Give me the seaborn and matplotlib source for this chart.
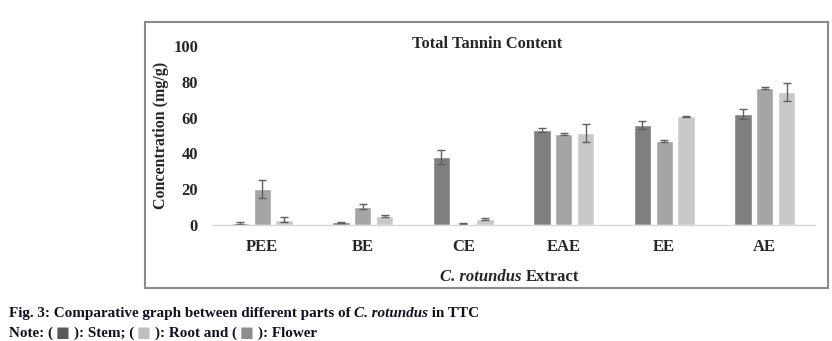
import matplotlib
matplotlib.use("Agg")
import matplotlib.pyplot as plt
import seaborn as sns
import pandas as pd
import numpy as np
from matplotlib.patches import Rectangle

extracts = ["PEE", "BE", "CE", "EAE", "EE", "AE"]
parts = ["Stem", "Root", "Flower"]
stem = [1.0, 1.5, 38.2, 53.1, 55.9, 62.0]
root = [20.1, 10.2, 0.7, 50.8, 46.9, 76.4]
flower = [3.0, 5.0, 3.4, 51.2, 60.7, 74.5]
stem_err = [0.4, 0.4, 3.9, 1.0, 2.3, 3.0]
root_err = [4.9, 1.3, 0.3, 0.7, 0.8, 0.6]
flower_err = [1.3, 0.5, 0.6, 5.0, 0.3, 5.0]
colors = ["#7f7f7f", "#a5a5a5", "#c9c9c9"]

sns.set_style("white")
plt.rcParams["font.family"] = ["Liberation Serif", "DejaVu Sans"]

df = pd.DataFrame({
    "Extract": extracts * 3,
    "Part": sum([[p] * len(extracts) for p in parts], []),
    "Value": stem + root + flower,
})

fig = plt.figure(figsize=(8.32, 3.41), dpi=100)
ax = fig.add_axes([212 / 832, 1 - 225 / 341, 603 / 832, 179 / 341])

sns.barplot(data=df, x="Extract", y="Value", hue="Part", hue_order=parts,
            order=extracts, palette=colors, width=0.65, gap=0.2,
            errorbar=None, legend=False, ax=ax, saturation=1)

errs = [stem_err, root_err, flower_err]
for cont, e in zip(ax.containers, errs):
    xs = [b.get_x() + b.get_width() / 2 for b in cont]
    hs = [b.get_height() for b in cont]
    ax.errorbar(xs, hs, yerr=e, fmt="none", ecolor="#606060", elinewidth=1,
                capsize=3, capthick=1)

ax.set_xlim(-0.5, 5.5)
ax.set_ylim(0, 100)
ax.set_yticks([0, 20, 40, 60, 80, 100])
for s in ["top", "right", "left"]:
    ax.spines[s].set_visible(False)
ax.spines["bottom"].set_color("#d9d9d9")
ax.spines["bottom"].set_linewidth(1)
ax.tick_params(axis="both", length=0, labelsize=12)
ax.tick_params(axis="x", pad=10, labelsize=12)
ax.tick_params(axis="y", pad=10)
for lab in ax.get_xticklabels() + ax.get_yticklabels():
    lab.set_fontweight("bold")
ax.set_xlabel("")
ax.set_ylabel("Concentration (mg/g)", fontsize=11.5, fontweight="bold")
ax.yaxis.set_label_coords(-0.072, 0.5)

# chart frame
fig.add_artist(Rectangle((145 / 832, 1 - 288 / 341), 683 / 832, 266 / 341,
                         transform=fig.transFigure, fill=False,
                         edgecolor="#8a8a8a", linewidth=1.5))

fig.text(487 / 832, 1 - 44 / 341, "Total Tannin Content", ha="center",
         va="center", fontsize=11.8, fontweight="bold")

# x axis label
fig.text(522 / 832, 1 - 277 / 341, "C. rotundus", ha="right", va="center",
         fontsize=12, fontweight="bold", fontstyle="italic")
fig.text(526 / 832, 1 - 277 / 341, "Extract", ha="left", va="center",
         fontsize=12, fontweight="bold")

# caption, assembled piece by piece on a shared baseline
cap_c = "#111122"
fs = 10.9
renderer = fig.canvas.get_renderer()


def write_line(pieces, x0_px, y_px):
    x = x0_px
    for txt, c, kind in pieces:
        kw = dict(ha="left", va="baseline", color=c)
        if kind == "sq":
            x += 3
            kw.update(fontsize=10.5, family=["DejaVu Sans"])
        else:
            kw.update(fontsize=fs, fontweight="bold")
            if kind == "it":
                kw.update(fontstyle="italic")
        tt = fig.text(x / 832, 1 - y_px / 341, txt, **kw)
        bb = tt.get_window_extent(renderer=renderer)
        x += bb.width
        if kind == "sq":
            x += 4


write_line([("Fig. 3: Comparative graph between different parts of ", cap_c, "b"),
            ("C. rotundus", cap_c, "it"),
            (" in TTC", cap_c, "b")], 9, 317)
write_line([("Note: (", cap_c, "b"), ("\u25A0", "#595959", "sq"),
            ("): Stem; (", cap_c, "b"), ("\u25A0", "#bfbfbf", "sq"),
            ("): Root and (", cap_c, "b"), ("\u25A0", "#8c8c8c", "sq"),
            ("): Flower", cap_c, "b")], 9, 337)

fig.savefig("out.png", dpi=100)
